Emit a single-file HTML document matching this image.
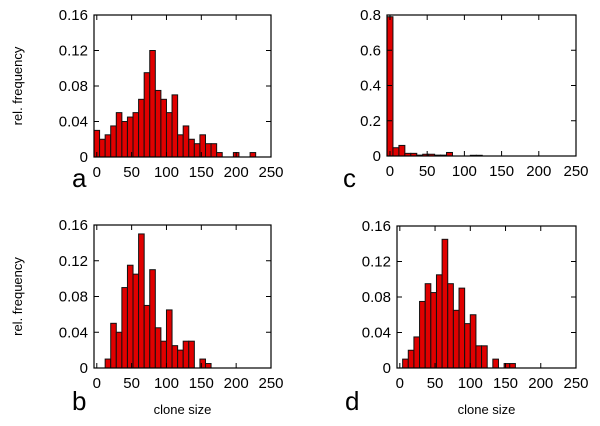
<!DOCTYPE html>
<html><head><meta charset="utf-8"><style>
html,body{margin:0;padding:0;background:#fff;}
svg{display:block;font-family:"Liberation Sans",sans-serif;}
</style></head><body>
<svg id="fig" width="600" height="426" viewBox="0 0 600 426"></svg>
<script>
const binCenters = [0,8,16,24,32,40,48,56,64,72,80,88,96,104,112,120,128,136,144,152,160,168,176,184,192,200,208,216,224];
const xTicks = [0,50,100,150,200,250];
const yTicksSmall = [0,0.04,0.08,0.12,0.16];
const yTickLabelsSmall = ["0","0.04","0.08","0.12","0.16"];
const yTicksLarge = [0,0.2,0.4,0.6,0.8];
const yTickLabelsLarge = ["0","0.2","0.4","0.6","0.8"];
const valuesA = [0.03,0.02,0.025,0.035,0.05,0.04,0.045,0.05,0.065,0.095,0.12,0.075,0.065,0.05,0.07,0.025,0.035,0.02,0.015,0.025,0.015,0.015,0.005,0,0,0.005,0,0,0.005];
const valuesB = [0,0,0.01,0.05,0.04,0.09,0.115,0.105,0.15,0.07,0.11,0.045,0.03,0.065,0.025,0.02,0.03,0.03,0,0.01,0.005,0,0,0,0,0,0,0,0];
const valuesC = [0.79,0.047,0.06,0.015,0.015,0.005,0.01,0.01,0.005,0.005,0.02,0,0,0,0.004,0.004,0,0,0,0,0,0,0,0,0,0,0,0,0];
const valuesD = [0,0.01,0.02,0.035,0.075,0.095,0.085,0.105,0.145,0.095,0.065,0.09,0.05,0.06,0.025,0.025,0,0.01,0,0.005,0.005,0,0,0,0,0,0,0,0];
const binWidth = 8;

const NS="http://www.w3.org/2000/svg";
const svg=document.getElementById('fig');
function mk(tag,attrs,parent){const e=document.createElementNS(NS,tag);for(const k in attrs)e.setAttribute(k,attrs[k]);(parent||svg).appendChild(e);return e;}

function panel(id,box,values,yMax,yTicks,yLabels,letter,letterPos,showYTitle,showXTitle){
  const g=mk('g',{});
  
  
  const xMin=-4,xMax=250;
  const sx=v=>box.l+(v-xMin)/(xMax-xMin)*(box.r-box.l);
  const sy=v=>box.b-v/yMax*(box.b-box.t);
  values.forEach((v,i)=>{
    if(v<=0)return;
    const c=binCenters[i];
    const x0=sx(c-binWidth/2),x1=sx(c+binWidth/2);
    const r=mk('rect',{x:x0,y:sy(v),width:x1-x0,height:sy(0)-sy(v),fill:'#e00000',stroke:'#111','stroke-width':1},g);
    
    
  });
  const fr=mk('rect',{x:box.l,y:box.t,width:box.r-box.l,height:box.b-box.t,fill:'none',stroke:'#000','stroke-width':1.2},g);
  
  
  xTicks.forEach(t=>{
    const x=sx(t);
    mk('line',{x1:x,x2:x,y1:box.b,y2:box.b-5,stroke:'#000'},g);
    mk('line',{x1:x,x2:x,y1:box.t,y2:box.t+5,stroke:'#000'},g);
    const tx=mk('text',{x:x,y:box.b+20,'font-size':15,'text-anchor':'middle',fill:'#000'},g);
    tx.textContent=t;
    
    
  });
  yTicks.forEach((t,i)=>{
    const y=sy(t);
    mk('line',{x1:box.l,x2:box.l+5,y1:y,y2:y,stroke:'#000'},g);
    mk('line',{x1:box.r,x2:box.r-5,y1:y,y2:y,stroke:'#000'},g);
    const tx=mk('text',{x:box.l-6,y:y+5,'font-size':15,'text-anchor':'end',fill:'#000'},g);
    tx.textContent=yLabels[i];
    
    
  });
  const lt=mk('text',{x:letterPos[0],y:letterPos[1],'font-size':26,fill:'#000'},g);
  lt.textContent=letter;
  
  
  if(showYTitle){
    const cy=(box.t+box.b)/2;
    const yt=mk('text',{x:22,y:cy,'font-size':13,'text-anchor':'middle',fill:'#000',transform:'rotate(-90 22 '+cy+')'},g);
    yt.textContent='rel. frequency';
    
    
  }
  if(showXTitle){
    const xt=mk('text',{x:(box.l+box.r)/2,y:box.b+46,'font-size':13,'text-anchor':'middle',fill:'#000'},g);
    xt.textContent='clone size';
    
    
  }
}
panel('a',{l:94,r:271,t:15,b:157},valuesA,0.16,yTicksSmall,yTickLabelsSmall,'a',[72,187],true,false);
panel('b',{l:94,r:271,t:225,b:368},valuesB,0.16,yTicksSmall,yTickLabelsSmall,'b',[72,410],true,true);
panel('c',{l:387,r:576,t:15,b:156},valuesC,0.8,yTicksLarge,yTickLabelsLarge,'c',[343,187],false,false);
panel('d',{l:397,r:576,t:226,b:368},valuesD,0.16,yTicksSmall,yTickLabelsSmall,'d',[345,410],false,true);
</script>
</body></html>
